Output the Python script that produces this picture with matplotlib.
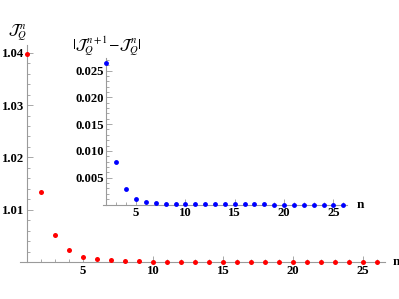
import matplotlib
matplotlib.use('Agg')
import matplotlib.pyplot as plt
from matplotlib.ticker import MultipleLocator, FixedLocator

plt.rcParams['mathtext.fontset'] = 'stix'
plt.rcParams['font.family'] = 'Liberation Serif'

# main series: J_Q^n for n = 1..26
n_main = list(range(1, 27))
jq = [1.0397, 1.0133, 1.0052, 1.0023, 1.0010, 1.0005, 1.0003, 1.0002, 1.00012,
      1.00008, 1.00005, 1.00004, 1.00003, 1.00002, 1.00002, 1.00001, 1.00001,
      1.00001, 1.00001, 1.0, 1.0, 1.0, 1.0, 1.0, 1.0, 1.0]

# inset series: |J^{n+1} - J^n| for n = 2..26
n_ins = list(range(2, 27))
diff = [0.0264, 0.0080, 0.0029, 0.0011, 0.0005, 0.0002, 0.00012, 0.00007,
        0.00005, 0.00004, 0.00003, 0.00002, 0.00002, 0.00001, 0.00001, 0.00001,
        0.00001, 0.0, 0.0, 0.0, 0.0, 0.0, 0.0, 0.0, 0.0]

W, H = 399, 299
fig = plt.figure(figsize=(W / 100, H / 100), dpi=100)

axcol = '#9a9a9a'
fs = 9.2


def style(ax, x0, y0):
    for s in ['top', 'right']:
        ax.spines[s].set_visible(False)
    ax.spines['left'].set_position(('data', x0))
    ax.spines['bottom'].set_position(('data', y0))
    for s in ['left', 'bottom']:
        ax.spines[s].set_color(axcol)
        ax.spines[s].set_linewidth(0.8)
    ax.tick_params(which='both', direction='in', color=axcol, width=0.6,
                   labelsize=fs, pad=2)
    ax.tick_params(which='major', length=4)
    ax.tick_params(which='minor', length=2)
    for lab in ax.get_xticklabels() + ax.get_yticklabels():
        lab.set_fontweight('bold')
    ax.patch.set_alpha(0)


# main axes: pixel x = 13 + 14*n, pixel y = 262 - (v-1)*5230
left, right = 20, 385
xlo, xhi = (left - 13) / 14, (right - 13) / 14
top = 45
ax = fig.add_axes([left / W, (H - 262) / H, (right - left) / W, (262 - top) / H])
ax.plot(n_main, jq, 'o', color='#ff0000', ms=3.6, mec='none', clip_on=False,
        zorder=5)
ax.set_xlim(xlo, xhi)
ax.set_ylim(1.0, 1.0 + (262 - top) / 5230)
ax.xaxis.set_major_locator(FixedLocator([5, 10, 15, 20, 25]))
ax.xaxis.set_minor_locator(MultipleLocator(1))
ax.yaxis.set_major_locator(FixedLocator([1.01, 1.02, 1.03, 1.04]))
ax.yaxis.set_minor_locator(MultipleLocator(0.002))
ax.yaxis.set_major_formatter(plt.FuncFormatter(lambda v, p: f'{v:.2f}'))
style(ax, 1, 1.0)
ax.text(1, 1.0 + (262 - 33) / 5230, r'$\mathcal{J}_Q^{\,n}$', ha='right',
        va='center', fontsize=11)
ax.text(xhi + 0.55, 1.0, 'n', ha='left', va='center', fontsize=9.5,
        fontweight='bold')

# inset axes: pixel x = 86.7 + 9.87*n, pixel y = 204.5 - v*5360
ileft, iright = 103, 347
ixlo, ixhi = (ileft - 86.7) / 9.87, (iright - 86.7) / 9.87
itop = 58
ins = fig.add_axes([ileft / W, (H - 204.5) / H, (iright - ileft) / W,
                    (204.5 - itop) / H])
ins.plot(n_ins, diff, 'o', color='#0000ff', ms=3.5, mec='none', clip_on=False,
         zorder=5)
ins.set_xlim(ixlo, ixhi)
ins.set_ylim(0, (204.5 - itop) / 5360)
ins.xaxis.set_major_locator(FixedLocator([5, 10, 15, 20, 25]))
ins.xaxis.set_minor_locator(MultipleLocator(1))
ins.yaxis.set_major_locator(FixedLocator([0.005, 0.010, 0.015, 0.020, 0.025]))
ins.yaxis.set_minor_locator(MultipleLocator(0.001))
ins.yaxis.set_major_formatter(plt.FuncFormatter(lambda v, p: f'{v:.3f}'))
style(ins, 2, 0)
ins.text(2, (204.5 - 46) / 5360, r'$|\mathcal{J}_Q^{\,n+1}\!-\!\mathcal{J}_Q^{\,n}|$',
         ha='center', va='center', fontsize=11)
ins.text(ixhi + 1.0, 0, 'n', ha='left', va='center', fontsize=9.5,
         fontweight='bold')

fig.savefig('out.png', dpi=100)
